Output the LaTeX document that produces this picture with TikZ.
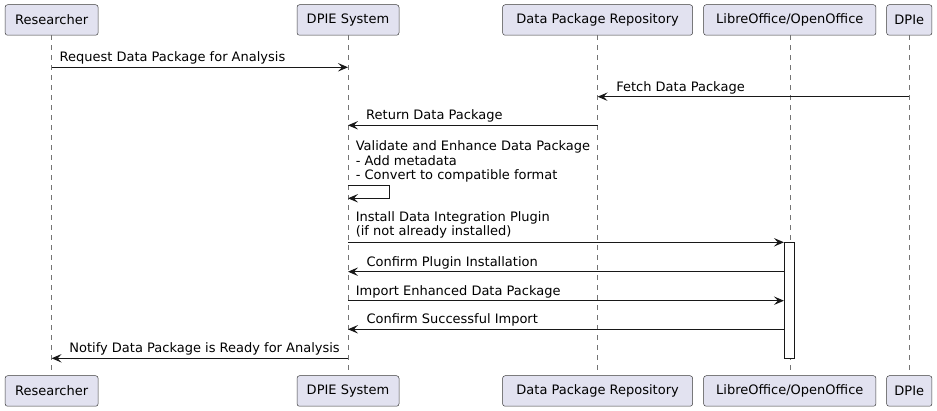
\documentclass[tikz,border=0pt]{standalone}
\usepackage{fontspec}
\setmainfont{DejaVu Sans}
\usetikzlibrary{arrows.meta,calc}
\definecolor{pfill}{HTML}{E2E2F0}
\definecolor{ink}{HTML}{181818}
\begin{document}
\begin{tikzpicture}[x=1pt,y=-1pt,
  every node/.style={font=\fontsize{13}{14.5}\selectfont, text=black},
  part/.style={draw=ink!85, line width=0.5pt, fill=pfill, rounded corners=2.5pt, minimum height=30.5pt, inner sep=0pt},
  life/.style={draw=ink!60, line width=0.5pt, dash pattern=on 5pt off 5pt},
  msg/.style={draw=ink, line width=1pt, -{Stealth[length=10pt,width=8.5pt,inset=4pt]}},
  lbl/.style={inner sep=0pt, anchor=base west, align=left},
  act/.style={draw=ink, line width=0.8pt, fill=white}
]
\useasboundingbox (0,0) rectangle (937,411);
% participants top
\node[part, minimum width=93pt]  (rT) at (51.6,20) {Researcher};
\node[part, minimum width=102pt] (sT) at (348,20) {DPIE System};
\node[part, minimum width=190pt] (dT) at (597.6,20) {Data Package Repository};
\node[part, minimum width=172.3pt] (lT) at (789.8,20) {LibreOffice/OpenOffice};
\node[part, minimum width=45.3pt] (pT) at (909.3,20) {DPIe};
% participants bottom
\node[part, minimum width=93pt]  (rB) at (51.6,391) {Researcher};
\node[part, minimum width=102pt] (sB) at (348,391) {DPIE System};
\node[part, minimum width=190pt] (dB) at (597.6,391) {Data Package Repository};
\node[part, minimum width=172.3pt] (lB) at (789.8,391) {LibreOffice/OpenOffice};
\node[part, minimum width=45.3pt] (pB) at (909.3,391) {DPIe};
% lifelines
\draw[life] (rT.south) -- (rB.north);
\draw[life] (sT.south) -- (sB.north);
\draw[life] (dT.south) -- (dB.north);
\draw[life] (lT.south) -- (lB.north);
\draw[life] (pT.south) -- (pB.north);
% activation
\node[act, minimum width=10pt, minimum height=116pt, inner sep=0pt, anchor=north] (la) at (789.3,242.3) {};
% messages
\coordinate (m1a) at (rT |- 0,67.3); \coordinate (m1b) at (sT |- 0,67.3);
\draw[msg] (m1a) -- (m1b);
\node[lbl] (t1) at ($(m1a)+(7.8,-5.6)$) {Request Data Package for Analysis};

\coordinate (m2a) at (pT |- 0,96.7); \coordinate (m2b) at (dT |- 0,96.7);
\draw[msg] (m2a) -- (m2b);
\node[lbl] (t2) at ($(m2b)+(18.5,-5.6)$) {Fetch Data Package};

\coordinate (m3a) at (dT |- 0,125.3); \coordinate (m3b) at (sT |- 0,125.3);
\draw[msg] (m3a) -- (m3b);
\node[lbl] (t3) at ($(m3b)+(18,-5.6)$) {Return Data Package};

\coordinate (m4a) at (sT |- 0,185.7); \coordinate (m4b) at (sT |- 0,198.3);
\draw[msg] (m4a) -- ++(41.6,0) |- (m4b);
\node[lbl] (t4) at ($(m4a)+(7.6,-5.7)$) {Validate and Enhance Data Package\\- Add metadata\\- Convert to compatible format};

\coordinate (m5a) at (sT |- 0,242.3);
\draw[msg] (m5a) -- (la.north west);
\node[lbl] (t5) at ($(m5a)+(7.6,-6.3)$) {Install Data Integration Plugin\\(if not already installed)};

\coordinate (m6b) at (sT |- 0,271.7);
\draw[msg] (la.west |- m6b) -- (m6b);
\node[lbl] (t6) at ($(m6b)+(18.3,-5.6)$) {Confirm Plugin Installation};

\coordinate (m7a) at (sT |- 0,300.7);
\draw[msg] (m7a) -- (la.west |- m7a);
\node[lbl] (t7) at ($(m7a)+(7.6,-5.6)$) {Import Enhanced Data Package};

\coordinate (m8b) at (sT |- 0,329.3);
\draw[msg] (la.west |- m8b) -- (m8b);
\node[lbl] (t8) at ($(m8b)+(18.3,-5.6)$) {Confirm Successful Import};

\coordinate (m9a) at (sT |- 0,358.3); \coordinate (m9b) at (rT |- 0,358.3);
\draw[msg] (m9a) -- (m9b);
\node[lbl] (t9) at ($(m9b)+(17.6,-5.6)$) {Notify Data Package is Ready for Analysis};
\end{tikzpicture}
\end{document}
